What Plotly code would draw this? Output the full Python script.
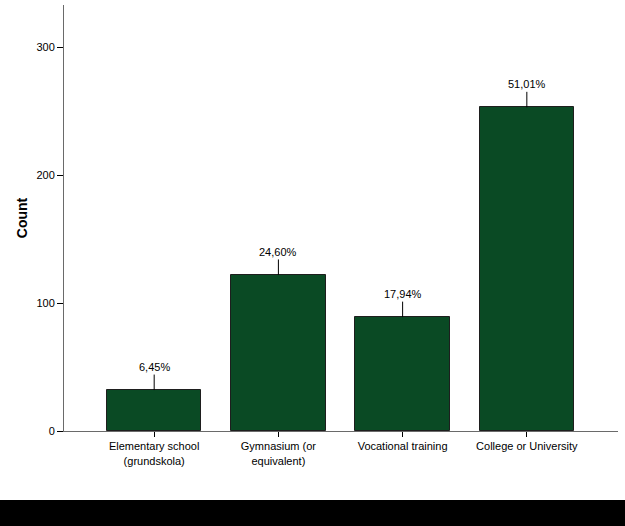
import plotly.graph_objects as go

# Education level counts (SPSS style bar chart)
categories = ["Elementary school<br>(grundskola)", "Gymnasium (or<br>equivalent)",
              "Vocational training", "College or University"]
counts = [32, 122, 89, 253]
y_ticks = [0, 100, 200, 300]

total = sum(counts)
pct_labels = [f"{c / total * 100:.2f}%".replace(".", ",") for c in counts]

fig = go.Figure()
fig.add_trace(go.Bar(
    x=list(range(len(categories))), y=counts, width=0.76,
    marker=dict(color="#0a4a24", line=dict(color="#1e1e1e", width=1)),
    hoverinfo="skip",
))

# percentage labels with a small leader line
for i, (c, t) in enumerate(zip(counts, pct_labels)):
    fig.add_annotation(x=i, y=c, text=t, showarrow=True, arrowhead=0,
                       arrowwidth=1, arrowcolor="#000", ax=0, ay=-23,
                       font=dict(size=11, color="#000"))

fig.update_layout(
    width=625, height=526,
    margin=dict(l=64, r=7, t=5, b=95),
    plot_bgcolor="white", paper_bgcolor="white",
    font=dict(family="Liberation Sans, Arial, sans-serif", size=11, color="#000"),
    showlegend=False,
    bargap=0,
    shapes=[dict(type="rect", xref="paper", yref="paper",
                 x0=-0.2, x1=1.1, y0=-0.25, y1=-0.162,
                 fillcolor="#000", line=dict(width=0), layer="above")],
)
fig.update_xaxes(range=[-0.726, 3.734], tickvals=list(range(len(categories))),
                 ticktext=categories, showline=True, linecolor="#6a6a6a",
                 ticks="outside", ticklen=5, tickcolor="#000",
                 showgrid=False, zeroline=False, fixedrange=True)
fig.update_yaxes(range=[0, 333], tickvals=y_ticks, showline=True,
                 linecolor="#6a6a6a", ticks="outside", ticklen=6,
                 tickcolor="#000", showgrid=False, zeroline=False,
                 title=dict(text="<b>Count</b>", font=dict(size=14), standoff=5),
                 fixedrange=True)

# page body has a default 8px margin; drop it so the chart fills the window
fig.write_html("out.html", config={"displayModeBar": False},
               post_script="document.body.style.margin='0';")
